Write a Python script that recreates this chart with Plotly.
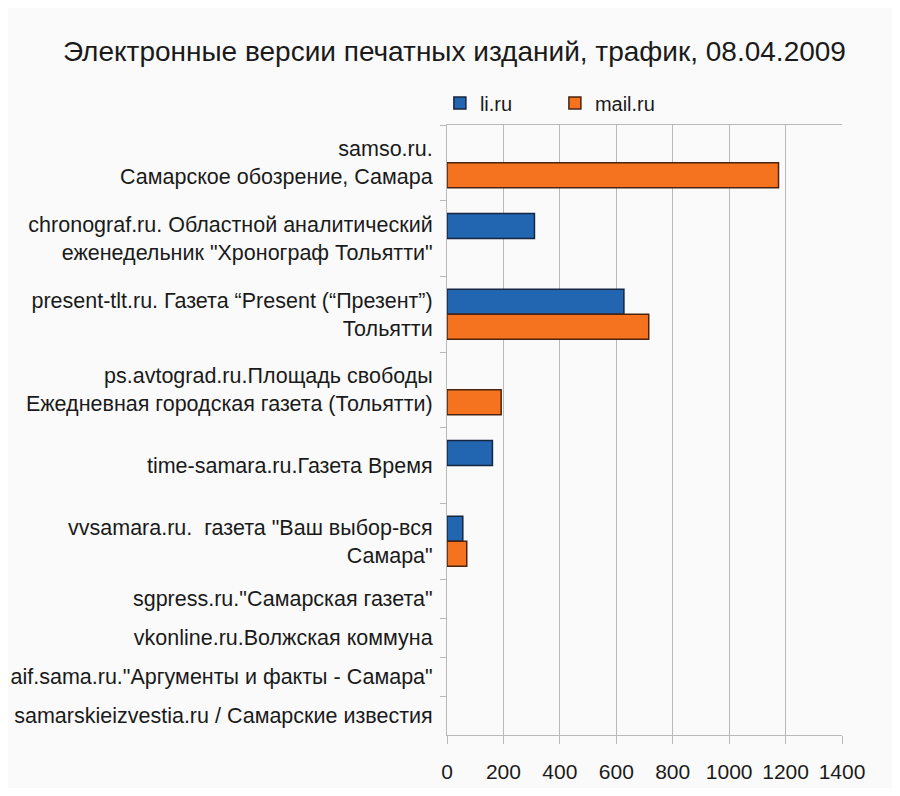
import plotly.graph_objects as go
from plotly.subplots import make_subplots

# Sources (top to bottom); first six rows are wide, last four are squeezed
sources_main = [
    "samso.ru.<br>Самарское обозрение, Самара",
    "chronograf.ru. Областной аналитический<br>еженедельник \"Хронограф Тольятти\"",
    "present-tlt.ru. Газета “Present (“Презент”)<br>Тольятти",
    "ps.avtograd.ru.Площадь свободы<br>Ежедневная городская газета (Тольятти)",
    "time-samara.ru.Газета Время",
    "vvsamara.ru.  газета \"Ваш выбор-вся<br>Самара\"",
]
sources_rest = [
    "sgpress.ru.\"Самарская газета\"",
    "vkonline.ru.Волжская коммуна",
    "aif.sama.ru.\"Аргументы и факты - Самара\"",
    "samarskieizvestia.ru / Самарские известия",
]

li_main = [None, 310, 627, None, 161, 56]
mail_main = [1175, None, 715, 192, None, 70]
li_rest = [None, None, None, None]
mail_rest = [None, None, None, None]

x_ticks = [0, 200, 400, 600, 800, 1000, 1200, 1400]

TITLE = "Электронные версии печатных изданий, трафик, 08.04.2009"
FONT = "Liberation Sans, Arial, sans-serif"
BLUE = "#2265b0"
ORANGE = "#f5731f"
GRID = "#b9b9b9"
BG = "#fafafa"

split = 0.2557  # share of plot height used by the last four rows

fig = make_subplots(rows=2, cols=1, shared_xaxes=True, vertical_spacing=0,
                    row_heights=[1 - split, split])

fig.add_trace(go.Bar(name="li.ru", y=sources_main, x=li_main, orientation="h",
                     marker=dict(color=BLUE, line=dict(color="#15263f", width=1.5))),
              row=1, col=1)
fig.add_trace(go.Bar(name="mail.ru", y=sources_main, x=mail_main, orientation="h",
                     marker=dict(color=ORANGE, line=dict(color="#4a2410", width=1.5))),
              row=1, col=1)
fig.add_trace(go.Bar(name="li.ru", y=sources_rest, x=li_rest, orientation="h",
                     marker=dict(color=BLUE), showlegend=False),
              row=2, col=1)
fig.add_trace(go.Bar(name="mail.ru", y=sources_rest, x=mail_rest, orientation="h",
                     marker=dict(color=ORANGE), showlegend=False),
              row=2, col=1)

x_common = dict(range=[0, 1400], tickvals=x_ticks, showgrid=True, gridcolor=GRID,
                gridwidth=1, zeroline=False, linecolor=GRID, linewidth=1,
                automargin=False)
fig.update_xaxes(**x_common, side="top", showline=True, showticklabels=False,
                 ticks="", row=1, col=1)
fig.update_xaxes(**x_common, showline=True, ticks="outside", ticklen=8,
                 tickcolor=GRID, ticklabelstandoff=10,
                 tickfont=dict(size=21, color="#1a1a1a"), row=2, col=1)

y_common = dict(type="category", showline=True, linecolor=GRID, linewidth=1,
                ticks="outside", ticklen=6, tickcolor=GRID, tickson="boundaries",
                showgrid=False, ticklabelstandoff=9, automargin=False,
                tickfont=dict(size=21.5, color="#1a1a1a"))
fig.update_yaxes(**y_common, categoryarray=sources_main,
                 range=[len(sources_main) - 0.5, -0.5], row=1, col=1)
fig.update_yaxes(**y_common, categoryarray=sources_rest,
                 range=[len(sources_rest) - 0.5, -0.5], row=2, col=1)

fig.update_layout(
    barmode="group",
    bargap=0.34,
    bargroupgap=0,
    width=884,
    height=780,
    margin=dict(l=439, r=50, t=117, b=53),
    paper_bgcolor=BG,
    plot_bgcolor=BG,
    font=dict(family=FONT, color="#1a1a1a"),
    title=dict(text=TITLE, x=0.505, xanchor="center", y=0.945, yanchor="middle",
               font=dict(size=28, color="#1a1a1a")),
    legend=dict(orientation="h", x=-0.018, xanchor="left", y=1.036, yanchor="middle",
                font=dict(size=20), entrywidth=70, entrywidthmode="pixels",
                bgcolor="rgba(0,0,0,0)", traceorder="normal"),
    showlegend=True,
)

fig.write_html("out.html")
